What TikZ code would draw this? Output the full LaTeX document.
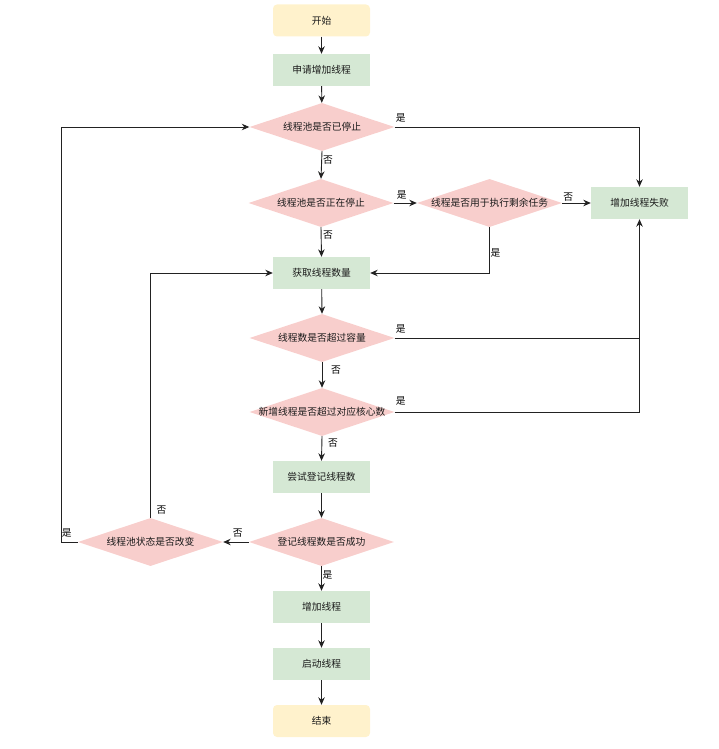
\documentclass[tikz,border=0pt]{standalone}
\usepackage{fontspec}
\newfontfamily\cjk{Noto Sans CJK SC}
\usetikzlibrary{shapes.geometric,arrows.meta}
\definecolor{ybox}{HTML}{FFF2CC}
\definecolor{gbox}{HTML}{D5E8D4}
\definecolor{pbox}{HTML}{F8CECC}
\definecolor{ln}{HTML}{222222}
\definecolor{txt}{HTML}{1A1A1A}
\begin{document}
\begin{tikzpicture}[x=1pt,y=-1pt,
  font=\cjk\fontsize{9.75}{11}\selectfont,
  term/.style={rectangle,rounded corners=4pt,fill=ybox,minimum width=97pt,minimum height=32pt,inner sep=0pt,text=txt},
  proc/.style={rectangle,fill=gbox,minimum width=97pt,minimum height=32pt,inner sep=0pt,text=txt},
  dia/.style={diamond,fill=pbox,aspect=3,minimum width=145pt,minimum height=48pt,inner sep=0pt},
  dtext/.style={text=txt},
  lbl/.style={inner sep=0pt,text=black},
  arr/.style={draw=ln,line width=0.9pt,-{Stealth[length=7.5pt,width=6.5pt]}},
  ln/.style={draw=ln,line width=0.9pt}]
\useasboundingbox (0,0) rectangle (718,749);

\node[term] (start) at (321.5,20.5) {开始};
\node[proc] (apply) at (321.5,70) {申请增加线程};
\node[dia] (d1) at (322,127) {};
\node[dtext] (d1t) at (d1.center) {线程池是否已停止};
\node[dia] (d2) at (321,203) {};
\node[dtext] (d2t) at (d2.center) {线程池是否正在停止};
\node[dia] (d3) at (489.5,203) {};
\node[dtext] (d3t) at (d3.center) {线程是否用于执行剩余任务};
\node[proc] (fail) at (639.5,203) {增加线程失败};
\node[proc] (get) at (321.5,273) {获取线程数量};
\node[dia] (d4) at (322,338) {};
\node[dtext] (d4t) at (d4.center) {线程数是否超过容量};
\node[dia] (d5) at (322,412) {};
\node[dtext] (d5t) at (d5.center) {新增线程是否超过对应核心数};
\node[proc] (try) at (321.5,477) {尝试登记线程数};
\node[dia] (d6) at (321.5,542) {};
\node[dtext] (d6t) at (d6.center) {登记线程数是否成功};
\node[dia] (d7) at (150.5,542) {};
\node[dtext] (d7t) at (d7.center) {线程池状态是否改变};
\node[proc] (add) at (321.5,607) {增加线程};
\node[proc] (run) at (321.5,664) {启动线程};
\node[term] (stop) at (321.5,721) {结束};

\coordinate (c1) at (639.5,127);
\coordinate (c3) at (489.5,273);
\coordinate (c4) at (639.5,338);
\coordinate (c5) at (639.5,412);
\coordinate (c7a) at (150.5,273);
\coordinate (c7b) at (61,542);
\coordinate (c7c) at (61,127);

\draw[arr] (start) -- (apply);
\draw[arr] (apply) -- (d1);
\draw[arr] (d1.east) -- (c1) -- (fail.north);
\draw[arr] (d1.south) -- (d2.north);
\draw[arr] (d2.east) -- (d3.west);
\draw[arr] (d3.east) -- (fail.west);
\draw[arr] (d2.south) -- (get.north);
\draw[arr] (d3.south) -- (c3) -- (get.east);
\draw[arr] (get) -- (d4.north);
\draw[ln] (d4.east) -- (c4);
\draw[arr] (d5.east) -- (c5) -- (fail.south);
\draw[arr] (d4.south) -- (d5.north);
\draw[arr] (d5.south) -- (try.north);
\draw[arr] (try) -- (d6.north);
\draw[arr] (d6.west) -- (d7.east);
\draw[arr] (d6.south) -- (add.north);
\draw[arr] (add) -- (run);
\draw[arr] (run) -- (stop);
\draw[arr] (d7.north) -- (c7a) -- (get.west);
\draw[arr] (d7.west) -- (c7b) -- (c7c) -- (d1.west);

\node[lbl] (l1) at ([shift={(6,-9)}]d1.east) {是};
\node[lbl] (l2) at ([shift={(6,9)}]d1.south) {否};
\node[lbl] (l3) at ([shift={(8,-8)}]d2.east) {是};
\node[lbl] (l4) at ([shift={(6,-6)}]d3.east) {否};
\node[lbl] (l5) at ([shift={(7,8)}]d2.south) {否};
\node[lbl] (l6) at ([shift={(6,26)}]d3.south) {是};
\node[lbl] (l7) at ([shift={(6,-9)}]d4.east) {是};
\node[lbl] (l8) at ([shift={(14,8)}]d4.south) {否};
\node[lbl] (l9) at ([shift={(6,-11)}]d5.east) {是};
\node[lbl] (l10) at ([shift={(11,7)}]d5.south) {否};
\node[lbl] (l11) at ([shift={(-11,-9)}]d6.west) {否};
\node[lbl] (l12) at ([shift={(6,9)}]d6.south) {是};
\node[lbl] (l13) at ([shift={(11,-8)}]d7.north) {否};
\node[lbl] (l14) at ([shift={(-11,-9)}]d7.west) {是};
\end{tikzpicture}
\end{document}
